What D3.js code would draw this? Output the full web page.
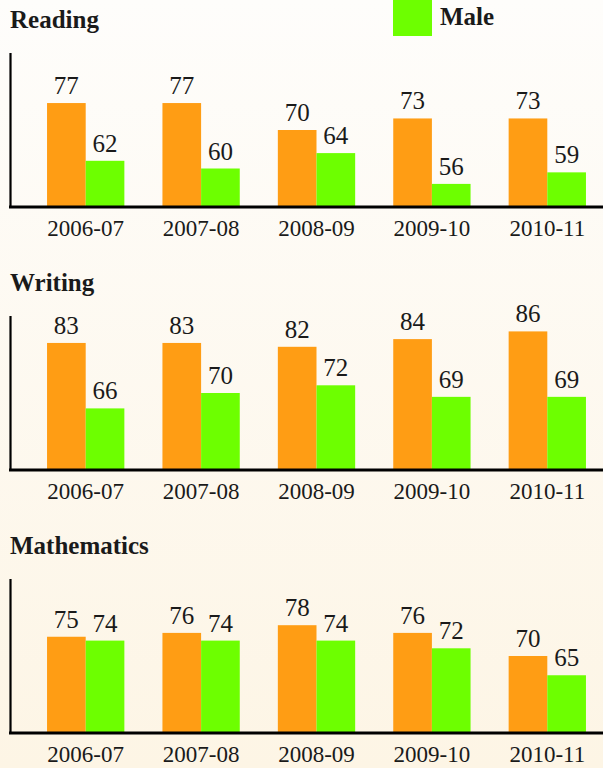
<!DOCTYPE html>
<html>
<head>
<meta charset="utf-8">
<script src="https://cdn.jsdelivr.net/npm/d3@7"></script>
<style>
  html, body { margin: 0; padding: 0; }
  body { width: 603px; height: 768px; overflow: hidden; }
  text { font-family: "Liberation Serif", "Times New Roman", serif; fill: #1a1a1a; }
</style>
</head>
<body>
<div id="chart-area"></div>
<script>
// data
let years = ["2006-07", "2007-08", "2008-09", "2009-10", "2010-11"];
let subjects = ["Reading", "Writing", "Mathematics"];
let female = [
    [77, 77, 70, 73, 73],
    [83, 83, 82, 84, 86],
    [75, 76, 78, 76, 70]
];
let male = [
    [62, 60, 64, 56, 59],
    [66, 70, 72, 69, 69],
    [74, 74, 74, 72, 65]
];
let yDomain = [50, 90];

let width = 603, height = 768;
let panelStep = 263;
let plotTop = 53, plotHeight = 154;

let svg = d3.select("#chart-area")
    .append("svg")
        .attr("width", width)
        .attr("height", height);

// background
let grad = svg.append("defs").append("linearGradient")
    .attr("id", "bg")
    .attr("x1", 0).attr("y1", 0)
    .attr("x2", 0).attr("y2", 1);
grad.append("stop").attr("offset", "0%").attr("stop-color", "#fefdfb");
grad.append("stop").attr("offset", "100%").attr("stop-color", "#fdf5e5");
svg.append("rect")
    .attr("width", width)
    .attr("height", height)
    .attr("fill", "url(#bg)");

let x = d3.scaleBand()
    .domain(years)
    .range([28, 605])
    .paddingInner(0.33)
    .paddingOuter(0.165);

let xSub = d3.scaleBand()
    .domain(["female", "male"])
    .range([0, x.bandwidth()]);

let y = d3.scaleLinear()
    .domain(yDomain)
    .range([plotHeight, 0]);

let colors = { female: "#ff9d14", male: "#6dff00" };

subjects.forEach((subject, i) => {
    let g = svg.append("g")
        .attr("transform", `translate(0, ${plotTop + i * panelStep})`);

    g.append("text")
        .attr("x", 10)
        .attr("y", -25)
        .attr("font-size", "25px")
        .attr("font-weight", "bold")
        .text(subject);

    let rows = years.map((yr, j) => ({ year: yr, female: female[i][j], male: male[i][j] }));

    let groups = g.selectAll("g.group")
        .data(rows)
        .enter()
        .append("g")
            .attr("class", "group")
            .attr("transform", (d) => `translate(${x(d.year)}, 0)`);

    let bars = groups.selectAll("g.bar")
        .data((d) => ["female", "male"].map((k) => ({ key: k, value: d[k] })))
        .enter()
        .append("g")
            .attr("class", "bar");

    bars.append("rect")
        .attr("x", (d) => xSub(d.key))
        .attr("y", (d) => y(d.value))
        .attr("width", xSub.bandwidth())
        .attr("height", (d) => plotHeight - y(d.value))
        .attr("fill", (d) => colors[d.key]);

    bars.append("text")
        .attr("x", (d) => xSub(d.key) + xSub.bandwidth() / 2)
        .attr("y", (d) => y(d.value) - 9)
        .attr("text-anchor", "middle")
        .attr("font-size", "25px")
        .text((d) => d.value);

    // x axis
    let xAxisCall = d3.axisBottom(x).tickSize(0).tickPadding(0);
    let xAxis = g.append("g")
        .attr("class", "x axis")
        .attr("transform", `translate(0, ${plotHeight})`)
        .call(xAxisCall);
    xAxis.select(".domain").remove();
    xAxis.selectAll("text")
        .attr("y", 29)
        .attr("dy", 0)
        .attr("font-size", "23px")
        .attr("font-family", "Liberation Serif, serif")
        .attr("fill", "#1a1a1a");

    // axis lines
    g.append("line")
        .attr("x1", 10.5).attr("x2", 10.5)
        .attr("y1", 0).attr("y2", plotHeight)
        .attr("stroke", "#000")
        .attr("stroke-width", 2.2);
    g.append("line")
        .attr("x1", 9).attr("x2", width)
        .attr("y1", plotHeight).attr("y2", plotHeight)
        .attr("stroke", "#000")
        .attr("stroke-width", 3);
});

// legend
let legend = svg.append("g");
legend.append("rect")
    .attr("x", 393)
    .attr("y", -3)
    .attr("width", 39)
    .attr("height", 39)
    .attr("fill", colors.male);
legend.append("text")
    .attr("x", 440)
    .attr("y", 25)
    .attr("font-size", "25px")
    .attr("font-weight", "bold")
    .text("Male");
</script>
</body>
</html>
